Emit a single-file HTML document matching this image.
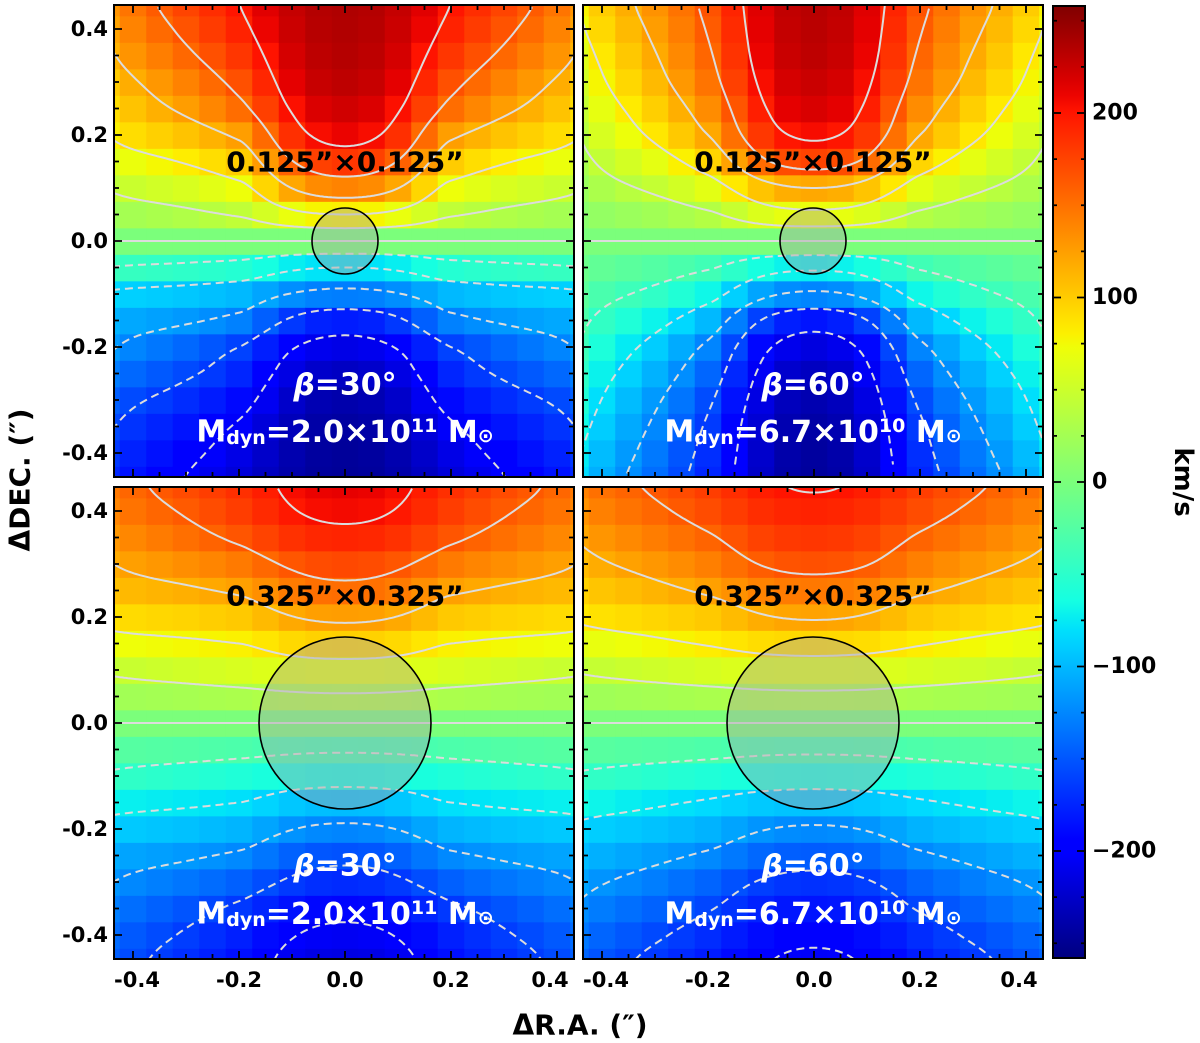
<!DOCTYPE html>
<html><head><meta charset="utf-8">
<style>
html,body{margin:0;padding:0;background:#fff;}
svg{display:block;}
text{font-family:"DejaVu Sans","Liberation Sans",sans-serif;font-weight:bold;}
</style></head>
<body>
<svg id="chart" width="1200" height="1043" viewBox="0 0 1200 1043" xmlns="http://www.w3.org/2000/svg">
<defs>
<clipPath id="clip-tl"><rect x="114" y="5" width="460" height="472"/></clipPath>
<clipPath id="clip-tr"><rect x="583" y="5" width="460" height="472"/></clipPath>
<clipPath id="clip-bl"><rect x="114" y="487" width="460" height="472"/></clipPath>
<clipPath id="clip-br"><rect x="583" y="487" width="460" height="472"/></clipPath>
<linearGradient id="jetgrad" x1="0" y1="0" x2="0" y2="1"></linearGradient>
</defs>
<rect x="0" y="0" width="1200" height="1043" fill="#fff"/>

<g id="panel-tl">
  <g id="cells-tl" clip-path="url(#clip-tl)"></g>
  <g id="cont-tl" clip-path="url(#clip-tl)"></g>
  <circle cx="345" cy="241" r="33" fill="#a8a8a8" fill-opacity="0.42" stroke="#000" stroke-width="1.6"/>
  <text x="345" y="162" text-anchor="middle" dominant-baseline="central" font-size="28" fill="#000">0.125”×0.125”</text>
  <text x="345" y="385" text-anchor="middle" dominant-baseline="central" font-size="30" fill="#fff"><tspan font-style="italic">β</tspan>=30°</text>
  <text x="345" y="432" text-anchor="middle" dominant-baseline="central" font-size="30" fill="#fff">M<tspan font-size="19" dy="6">dyn</tspan><tspan dy="-6">=2.0×10</tspan><tspan font-size="19" dy="-6">11</tspan><tspan dy="6"> M</tspan><tspan font-size="19" dy="4">⊙</tspan></text>
</g>
<g id="panel-tr">
  <g id="cells-tr" clip-path="url(#clip-tr)"></g>
  <g id="cont-tr" clip-path="url(#clip-tr)"></g>
  <circle cx="813" cy="241" r="33" fill="#a8a8a8" fill-opacity="0.42" stroke="#000" stroke-width="1.6"/>
  <text x="813" y="162" text-anchor="middle" dominant-baseline="central" font-size="28" fill="#000">0.125”×0.125”</text>
  <text x="813" y="385" text-anchor="middle" dominant-baseline="central" font-size="30" fill="#fff"><tspan font-style="italic">β</tspan>=60°</text>
  <text x="813" y="432" text-anchor="middle" dominant-baseline="central" font-size="30" fill="#fff">M<tspan font-size="19" dy="6">dyn</tspan><tspan dy="-6">=6.7×10</tspan><tspan font-size="19" dy="-6">10</tspan><tspan dy="6"> M</tspan><tspan font-size="19" dy="4">⊙</tspan></text>
</g>
<g id="panel-bl">
  <g id="cells-bl" clip-path="url(#clip-bl)"></g>
  <g id="cont-bl" clip-path="url(#clip-bl)"></g>
  <circle cx="345" cy="723" r="86" fill="#a8a8a8" fill-opacity="0.42" stroke="#000" stroke-width="1.6"/>
  <text x="345" y="596" text-anchor="middle" dominant-baseline="central" font-size="28" fill="#000">0.325”×0.325”</text>
  <text x="345" y="866" text-anchor="middle" dominant-baseline="central" font-size="30" fill="#fff"><tspan font-style="italic">β</tspan>=30°</text>
  <text x="345" y="914" text-anchor="middle" dominant-baseline="central" font-size="30" fill="#fff">M<tspan font-size="19" dy="6">dyn</tspan><tspan dy="-6">=2.0×10</tspan><tspan font-size="19" dy="-6">11</tspan><tspan dy="6"> M</tspan><tspan font-size="19" dy="4">⊙</tspan></text>
</g>
<g id="panel-br">
  <g id="cells-br" clip-path="url(#clip-br)"></g>
  <g id="cont-br" clip-path="url(#clip-br)"></g>
  <circle cx="813" cy="723" r="86" fill="#a8a8a8" fill-opacity="0.42" stroke="#000" stroke-width="1.6"/>
  <text x="813" y="596" text-anchor="middle" dominant-baseline="central" font-size="28" fill="#000">0.325”×0.325”</text>
  <text x="813" y="866" text-anchor="middle" dominant-baseline="central" font-size="30" fill="#fff"><tspan font-style="italic">β</tspan>=60°</text>
  <text x="813" y="914" text-anchor="middle" dominant-baseline="central" font-size="30" fill="#fff">M<tspan font-size="19" dy="6">dyn</tspan><tspan dy="-6">=6.7×10</tspan><tspan font-size="19" dy="-6">10</tspan><tspan dy="6"> M</tspan><tspan font-size="19" dy="4">⊙</tspan></text>
</g>

<g id="axes"></g>

<rect x="1053" y="6" width="32" height="952" fill="url(#jetgrad)" stroke="#000" stroke-width="2"/>
<g id="cbticks"></g>
<text transform="translate(1183,482) rotate(90)" text-anchor="middle" dominant-baseline="central" font-size="26">km/s</text>

<text transform="translate(20,480) rotate(-90)" text-anchor="middle" dominant-baseline="central" font-size="28">ΔDEC. (″)</text>
<text x="580" y="1025" text-anchor="middle" dominant-baseline="central" font-size="28">ΔR.A. (″)</text>
</svg>

<script>
// Velocity profiles (km/s) sampled at DEC = -0.45 ... 0.45 (step 0.05"),
// along columns at R.A. offset 0" (center), 0.2" (mid), 0.43" (edge).
const tlCenter = [-247,-246,-243,-238,-228,-212,-180,-130,-80,0,80,140,182,210,222,230,234,236,237];
const tlMid    = [-218,-212,-203,-190,-175,-160,-128,-100,-55,0,43,72,100,125,152,168,182,193,200];
const tlEdge   = [-178,-170,-161,-150,-135,-120,-105,-86,-42,0,23,45,65,85,97,108,121,130,138];

const trCenter = [-245,-244,-241,-236,-229,-215,-184,-126,-73,0,70,120,175,205,218,225,230,232,233];
const trMid    = [-175,-170,-164,-155,-142,-126,-100,-68,-37,0,35,65,95,120,135,148,156,162,167];
const trEdge   = [-92,-85,-76,-67,-58,-48,-37,-25,-13,0,12,24,35,46,55,64,72,81,88];

const blCenter = [-214,-206,-192,-172,-152,-126,-98,-67,-36,0,36,67,98,126,152,172,192,206,212];
const blMid    = [-186,-178,-165,-145,-124,-102,-80,-58,-30,0,30,58,80,102,124,145,165,178,186];
const blEdge   = [-150,-143,-133,-121,-108,-90,-71,-46,-23,0,23,46,71,90,108,121,133,143,150];

const brCenter = [-204,-195,-184,-169,-147,-124,-95,-65,-34,0,33,64,94,123,146,168,182,193,202];
const brMid    = [-180,-171,-158,-143,-124,-103,-83,-58,-29,0,29,57,82,102,124,142,157,170,178];
const brEdge   = [-146,-137,-126,-114,-101,-87,-67,-45,-22,0,22,44,66,86,100,113,125,136,145];

const contourLevels = [-200,-160,-120,-80,-40,0,40,80,120,160,200];
const axisTicks = [-0.4,-0.2,0.0,0.2,0.4];
const axisTickLabels = ["-0.4","-0.2","0.0","0.2","0.4"];
const cbTicks = [-200,-100,0,100,200];
const cbTickLabels = ["−200","−100","0","100","200"];
const vMin = -258, vMax = 258;

const NS = "http://www.w3.org/2000/svg";
const SCALE = 530; // px per arcsec
const panels = [
  {id:"tl", px0:114, py0:5,   c:tlCenter, m:tlMid, e:tlEdge, left:true,  bottom:false},
  {id:"tr", px0:583, py0:5,   c:trCenter, m:trMid, e:trEdge, left:false, bottom:false},
  {id:"bl", px0:114, py0:487, c:blCenter, m:blMid, e:blEdge, left:true,  bottom:true},
  {id:"br", px0:583, py0:487, c:brCenter, m:brMid, e:brEdge, left:false, bottom:true}
];

const JR = [[0,0],[0.35,0],[0.66,1],[0.89,1],[1,0.5]];
const JG = [[0,0],[0.125,0],[0.375,1],[0.64,1],[0.91,0],[1,0]];
const JB = [[0,0.5],[0.11,1],[0.34,1],[0.65,0],[1,0]];
function pw(pts,f){
  for(let i=0;i<pts.length-1;i++){
    if(f<=pts[i+1][0]){const t=(f-pts[i][0])/(pts[i+1][0]-pts[i][0]);return pts[i][1]+t*(pts[i+1][1]-pts[i][1]);}
  }
  return pts[pts.length-1][1];
}
function jet(v){
  let f=(v-vMin)/(vMax-vMin); f=Math.max(0,Math.min(1,f));
  const r=Math.round(255*pw(JR,f)), g=Math.round(255*pw(JG,f)), b=Math.round(255*pw(JB,f));
  return "rgb("+r+","+g+","+b+")";
}
function cr(arr,y){
  const t=(y+0.45)/0.05; let i=Math.floor(t); if(i>17)i=17; if(i<0)i=0;
  const f=t-i;
  const p0=arr[Math.max(i-1,0)],p1=arr[i],p2=arr[i+1],p3=arr[Math.min(i+2,arr.length-1)];
  return 0.5*((2*p1)+(-p0+p2)*f+(2*p0-5*p1+4*p2-p3)*f*f+(-p0+3*p1-3*p2+p3)*f*f*f);
}
function hermite(ua,ub,va,vb,da,db,u){
  const h=ub-ua, t=(u-ua)/h, t2=t*t, t3=t2*t;
  return (2*t3-3*t2+1)*va+(t3-2*t2+t)*h*da+(-2*t3+3*t2)*vb+(t3-t2)*h*db;
}
function fieldVal(p,x,y){
  const yc=Math.max(-0.45,Math.min(0.45,y));
  const a=cr(p.c,yc), b=cr(p.m,yc), e=cr(p.e,yc);
  const u=x*x, u1=0.04, u2=0.1849;
  const d0=(b-a)/u1, d2=(e-b)/(u2-u1);
  let d1=0;
  if(d0*d2>0){ const w1=2*(u2-u1)+u1, w2=(u2-u1)+2*u1; d1=(w1+w2)/(w1/d0+w2/d2); }
  if(u<=u1) return hermite(0,u1,a,b,d0,d1,u);
  if(u<=u2) return hermite(u1,u2,b,e,d1,d2,u);
  return e+d2*(u-u2);
}

panels.forEach(p=>{
  const cx=p.px0+231, cy=p.py0+236;
  const X=x=>cx+x*SCALE, Y=y=>cy-y*SCALE;
  const cg=document.getElementById("cells-"+p.id);
  for(let i=-9;i<=9;i++){
    for(let j=-9;j<=9;j++){
      const xd=i*0.05, yd=j*0.05;
      const r=document.createElementNS(NS,"rect");
      r.setAttribute("x",(X(xd-0.025)).toFixed(2));
      r.setAttribute("y",(Y(yd+0.025)).toFixed(2));
      r.setAttribute("width",(0.05*SCALE+0.6).toFixed(2));
      r.setAttribute("height",(0.05*SCALE+0.6).toFixed(2));
      r.setAttribute("fill",jet(fieldVal(p,xd,yd)));
      
      
      cg.appendChild(r);
    }
  }
  const kg=document.getElementById("cont-"+p.id);
  const ys=[]; for(let k=0;k<=460;k++) ys.push(-0.46+k*0.002);
  const segs={}; contourLevels.forEach(L=>{segs[L]=[[]];});
  for(let px=p.px0-2;px<=p.px0+462;px+=2){
    const xd=(px-cx)/SCALE;
    const col=ys.map(y=>fieldVal(p,xd,y));
    contourLevels.forEach(L=>{
      let found=null;
      for(let k=0;k<col.length-1;k++){
        const a=col[k]-L, b=col[k+1]-L;
        if((a<=0&&b>0)||(a>=0&&b<0)){const t=a/(a-b); found=ys[k]+t*(ys[k+1]-ys[k]); break;}
      }
      const list=segs[L];
      if(found!==null){list[list.length-1].push([px,Y(found)]);}
      else if(list[list.length-1].length){list.push([]);}
    });
  }
  contourLevels.forEach(L=>{
    segs[L].forEach(s=>{
      if(s.length<2) return;
      const pl=document.createElementNS(NS,"polyline");
      pl.setAttribute("points",s.map(q=>q[0].toFixed(1)+","+q[1].toFixed(1)).join(" "));
      pl.setAttribute("fill","none");
      pl.setAttribute("stroke","#dcdcdc");
      pl.setAttribute("stroke-width","2");
      if(L<0) pl.setAttribute("stroke-dasharray","8,5");
      
      
      kg.appendChild(pl);
    });
  });
  const ag=document.getElementById("axes");
  const fr=document.createElementNS(NS,"rect");
  fr.setAttribute("x",p.px0); fr.setAttribute("y",p.py0);
  fr.setAttribute("width",460); fr.setAttribute("height",472);
  fr.setAttribute("fill","none"); fr.setAttribute("stroke","#000"); fr.setAttribute("stroke-width","2");
  
  
  ag.appendChild(fr);
  let d="";
  for(let k=-8;k<=8;k++){
    const v=k*0.05, len=(k%4===0)?8:5;
    const tx=X(v), ty=Y(v);
    d+="M"+tx+","+(p.py0+472)+"v"+(-len)+"M"+tx+","+p.py0+"v"+len;
    d+="M"+p.px0+","+ty+"h"+len+"M"+(p.px0+460)+","+ty+"h"+(-len);
  }
  const tk=document.createElementNS(NS,"path");
  tk.setAttribute("d",d); tk.setAttribute("stroke","#000"); tk.setAttribute("stroke-width","1.8");
  
  
  ag.appendChild(tk);
  if(p.left){
    axisTicks.forEach((v,i)=>{
      const t=document.createElementNS(NS,"text");
      t.setAttribute("x",p.px0-6); t.setAttribute("y",Y(v));
      t.setAttribute("text-anchor","end"); t.setAttribute("dominant-baseline","central");
      t.setAttribute("font-size","21");
      t.textContent=axisTickLabels[i];
      
      
      ag.appendChild(t);
    });
  }
  if(p.bottom){
    axisTicks.forEach((v,i)=>{
      const t=document.createElementNS(NS,"text");
      let xx=X(v);
      if(i===0) xx+=4; if(i===4) xx-=7;
      t.setAttribute("x",xx); t.setAttribute("y",980);
      t.setAttribute("text-anchor","middle"); t.setAttribute("dominant-baseline","central");
      t.setAttribute("font-size","21");
      t.textContent=axisTickLabels[i];
      
      
      ag.appendChild(t);
    });
  }
});

const grad=document.getElementById("jetgrad");
for(let k=0;k<=64;k++){
  const f=k/64, v=vMax-f*(vMax-vMin);
  const s=document.createElementNS(NS,"stop");
  s.setAttribute("offset",f);
  s.setAttribute("stop-color",jet(v));
  grad.appendChild(s);
}
const cbY=v=>482-v*1.845;
const cbg=document.getElementById("cbticks");
let cd="";
for(let v=-250;v<=250;v+=25){
  const len=(v%100===0)?8:4, y=cbY(v);
  cd+="M1053,"+y+"h"+len+"M1085,"+y+"h"+(-len);
}
const cbp=document.createElementNS(NS,"path");
cbp.setAttribute("d",cd); cbp.setAttribute("stroke","#000"); cbp.setAttribute("stroke-width","1.8");


cbg.appendChild(cbp);
cbTicks.forEach((v,i)=>{
  const t=document.createElementNS(NS,"text");
  t.setAttribute("x",1092); t.setAttribute("y",cbY(v));
  t.setAttribute("dominant-baseline","central"); t.setAttribute("font-size","22");
  t.textContent=cbTickLabels[i];
  
  
  cbg.appendChild(t);
});
</script>
</body></html>
